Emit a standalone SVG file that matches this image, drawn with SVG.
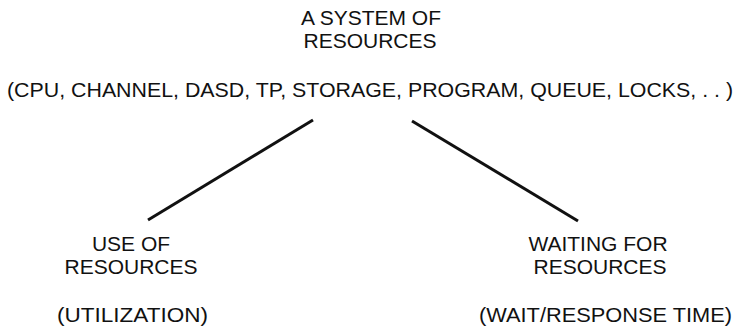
<svg xmlns="http://www.w3.org/2000/svg" width="737" height="326" viewBox="0 0 737 326">
  <style>
    text { font-family: "Liberation Sans", Arial, sans-serif; font-size: 21px; fill: #111; }
    .edge { stroke: #111; stroke-width: 3; stroke-linecap: butt; fill: none; }
  </style>
  <rect width="737" height="326" fill="#fff"/>

  <g id="system">
    <text x="371" y="25" text-anchor="middle">A SYSTEM OF</text>
    <text x="370" y="48" text-anchor="middle">RESOURCES</text>
    <text x="7" y="97" textLength="726" lengthAdjust="spacingAndGlyphs">(CPU, CHANNEL, DASD, TP, STORAGE, PROGRAM, QUEUE, LOCKS, . . )</text>
  </g>

  <g id="connectors">
    <line class="edge" x1="313" y1="120" x2="148" y2="220"/>
    <line class="edge" x1="412" y1="121" x2="578" y2="221"/>
  </g>

  <g id="use">
    <text x="131" y="251" text-anchor="middle">USE OF</text>
    <text x="131" y="274" text-anchor="middle">RESOURCES</text>
    <text x="57" y="322" textLength="151" lengthAdjust="spacingAndGlyphs">(UTILIZATION)</text>
  </g>

  <g id="waiting">
    <text x="598" y="251" text-anchor="middle">WAITING FOR</text>
    <text x="600" y="274" text-anchor="middle">RESOURCES</text>
    <text x="479" y="322" textLength="253" lengthAdjust="spacingAndGlyphs">(WAIT/RESPONSE TIME)</text>
  </g>
</svg>
